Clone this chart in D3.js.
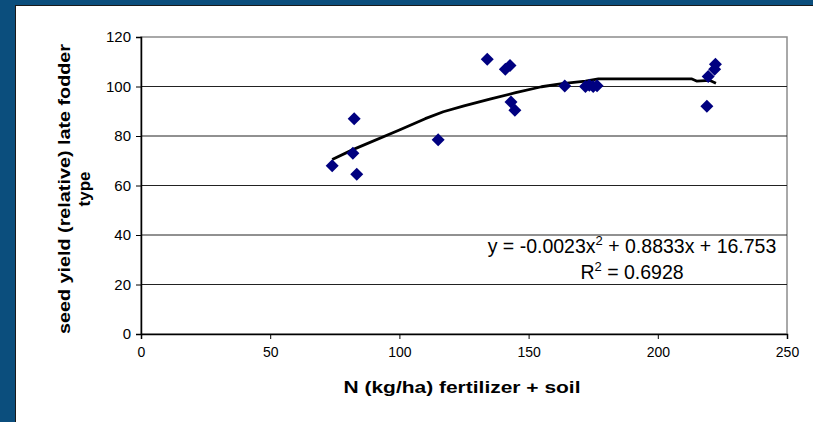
<!DOCTYPE html>
<html><head><meta charset="utf-8">
<script src="https://cdn.jsdelivr.net/npm/d3@7"></script>
<style>
html,body{margin:0;padding:0;background:#0b4e7d;}
svg{display:block;}
text{font-family:Arial,"Liberation Sans",sans-serif;}
</style></head>
<body>
<script>
// Data
const nValues = [74, 82, 82.5, 83.5, 115, 134, 141, 142.8, 143.2, 144.7, 164, 172, 173.5, 175, 176.5, 219, 219.5, 222, 222.3];
const yieldValues = [68, 73, 87, 64.5, 78.5, 111, 107, 108.5, 93.7, 90.4, 100.2, 100, 100.5, 100, 100.3, 92, 104, 107, 109];
const trendX = [74, 82, 100, 110, 117, 125, 135, 145, 155, 163, 172, 177, 213, 215, 220, 222.5];
const trendY = [70.5, 74.5, 82.4, 87, 89.8, 92.2, 94.9, 97.5, 99.9, 101.2, 102.2, 103.1, 103.1, 102.2, 102.5, 101.3];
const xTicks = [0, 50, 100, 150, 200, 250];
const yTicks = [0, 20, 40, 60, 80, 100, 120];
const xTitle = "N (kg/ha) fertilizer + soil";
const yTitleLines = ["seed yield (relative) late fodder", "type"];
const eqLines = ["y = -0.0023x", "R", " = 0.6928"];

const W = 813, H = 422;
const svg = d3.select("body").append("svg").attr("width", W).attr("height", H);
svg.append("rect").attr("width", W).attr("height", H).attr("fill", "#0b4e7d");
svg.append("rect").attr("x", 15.5).attr("y", 5.5).attr("width", W).attr("height", H)
  .attr("fill", "#fff").attr("stroke", "#1a1a1a").attr("stroke-width", 1);

const L = 141, R = 787, T = 37, B = 334;
const x = d3.scaleLinear().domain([0, 250]).range([L, R]);
const y = d3.scaleLinear().domain([0, 120]).range([B, T]);

// plot border (gray)
svg.append("rect").attr("x", L).attr("y", T).attr("width", R - L).attr("height", B - T)
  .attr("fill", "none").attr("stroke", "#8c8c8c").attr("stroke-width", 1.5);

// gridlines
svg.append("g").selectAll("line").data(yTicks.filter(d => d > 0 && d < 120)).join("line")
  .attr("x1", L).attr("x2", R).attr("y1", d => y(d)).attr("y2", d => y(d))
  .attr("stroke", "#222").attr("stroke-width", 1);

// axes
const yAxis = svg.append("g").attr("transform", `translate(${L},0)`)
  .call(d3.axisLeft(y).tickValues(yTicks).tickSize(5).tickPadding(5));
yAxis.select(".domain").attr("stroke", "#000").attr("stroke-width", 1.5);
yAxis.selectAll("text").attr("font-size", 15).attr("fill", "#000");

const xAxis = svg.append("g").attr("transform", `translate(0,${B})`)
  .call(d3.axisBottom(x).tickValues(xTicks).tickSize(5).tickPadding(8));
xAxis.select(".domain").attr("stroke", "#000").attr("stroke-width", 1.5);
xAxis.selectAll("text").attr("font-size", 14).attr("fill", "#000");

// trend line
svg.append("path").datum(trendX.map((d, i) => [d, trendY[i]]))
  .attr("d", d3.line().x(d => x(d[0])).y(d => y(d[1])))
  .attr("fill", "none").attr("stroke", "#000").attr("stroke-width", 2.8)
  .attr("stroke-linejoin", "round");

// points
svg.append("g").selectAll("path").data(nValues.map((d, i) => [d, yieldValues[i]])).join("path")
  .attr("transform", d => `translate(${x(d[0])},${y(d[1])})`)
  .attr("d", "M0,-6.5L6.5,0L0,6.5L-6.5,0Z")
  .attr("fill", "#000080");

// equation
const eq = svg.append("text").attr("x", 632).attr("y", 253).attr("text-anchor", "middle")
  .attr("font-size", 19.5).attr("fill", "#000");
eq.append("tspan").text(eqLines[0]);
eq.append("tspan").attr("dy", -8).attr("font-size", 13).text("2");
eq.append("tspan").attr("dy", 8).text(" + 0.8833x + 16.753");
const r2 = svg.append("text").attr("x", 632).attr("y", 279).attr("text-anchor", "middle")
  .attr("font-size", 19.5).attr("fill", "#000");
r2.append("tspan").text(eqLines[1]);
r2.append("tspan").attr("dy", -8).attr("font-size", 13).text("2");
r2.append("tspan").attr("dy", 8).text(eqLines[2]);

// axis titles
svg.append("text").attr("x", 462).attr("y", 393).attr("text-anchor", "middle")
  .attr("font-size", 17).attr("font-weight", "bold").attr("fill", "#000")
  .attr("textLength", 237).attr("lengthAdjust", "spacingAndGlyphs").text(xTitle);

const yt = svg.append("text").attr("transform", "translate(70,189) rotate(-90)")
  .attr("text-anchor", "middle").attr("font-size", 17).attr("font-weight", "bold").attr("fill", "#000");
yt.append("tspan").attr("x", 0).attr("y", 0).attr("textLength", 290).attr("lengthAdjust", "spacingAndGlyphs").text(yTitleLines[0]);
yt.append("tspan").attr("x", 0).attr("y", 20).text(yTitleLines[1]);
</script>
</body></html>
